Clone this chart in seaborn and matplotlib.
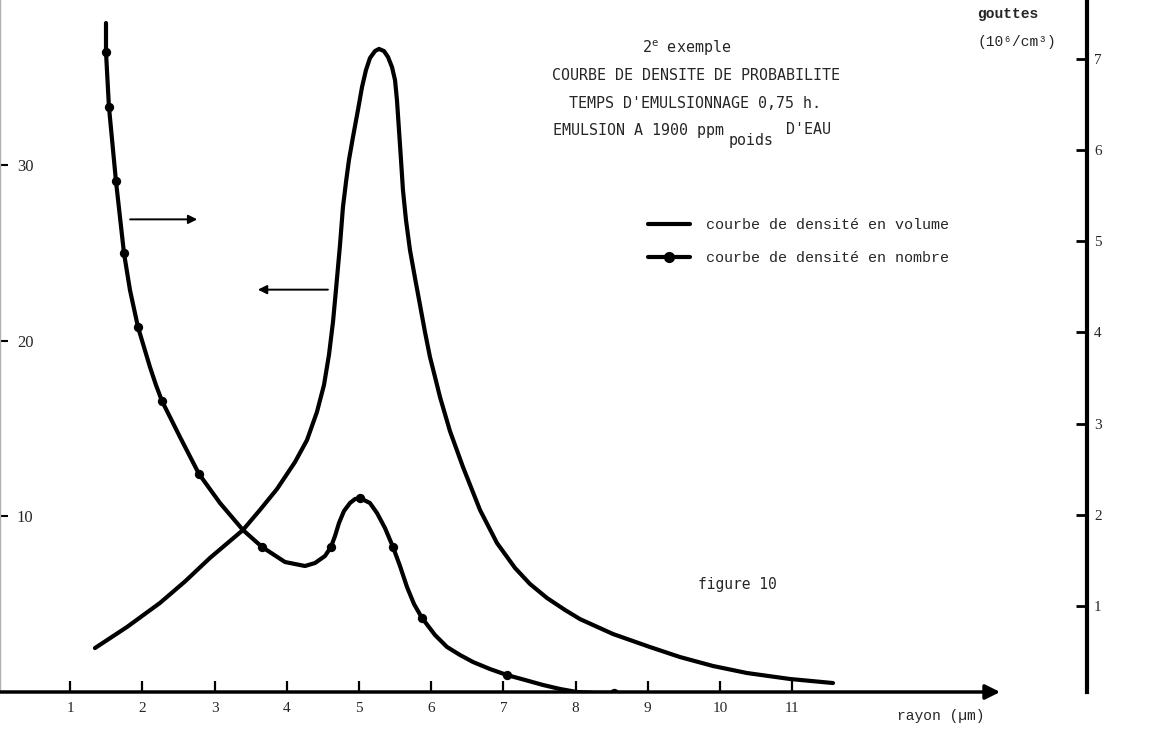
import matplotlib
matplotlib.use("Agg")
import matplotlib.pyplot as plt
from matplotlib.lines import Line2D
from matplotlib.font_manager import FontProperties
import seaborn as sns

# ---------------- data ----------------
# volume density curve (left axis)
vol_r = [1.343, 1.787, 2.244, 2.590, 2.936, 3.393, 3.628, 3.864, 4.114, 4.280, 4.418, 4.515,
         4.584, 4.640, 4.681, 4.737, 4.778, 4.820, 4.861, 4.917, 4.986, 5.042, 5.097, 5.152,
         5.222, 5.277, 5.346, 5.402, 5.457, 5.499, 5.526, 5.554, 5.582, 5.609, 5.651, 5.706,
         5.776, 5.845, 5.914, 5.983, 6.053, 6.122, 6.260, 6.440, 6.676, 6.911, 7.161, 7.368,
         7.604, 7.853, 8.061, 8.518, 9.03, 9.446, 9.903, 10.374, 10.97, 11.565]
vol_d = [2.50, 3.70, 5.07, 6.29, 7.63, 9.22, 10.36, 11.55, 13.09, 14.34, 15.94, 17.47,
         19.18, 21.06, 22.88, 25.44, 27.60, 29.02, 30.28, 31.59, 33.13, 34.43, 35.40, 36.08,
         36.48, 36.60, 36.48, 36.14, 35.57, 34.83, 33.69, 31.99, 30.28, 28.57, 26.86, 25.16,
         23.56, 22.03, 20.49, 19.07, 17.93, 16.79, 14.85, 12.81, 10.36, 8.48, 7.06, 6.15,
         5.35, 4.67, 4.15, 3.30, 2.56, 1.99, 1.48, 1.08, 0.74, 0.51]

# number density curve (right axis, 10^6/cm^3)
num_r = [1.496, 1.496, 1.537, 1.634, 1.745, 1.828, 1.939, 2.105, 2.188, 2.271, 2.521, 2.784,
         3.075, 3.393, 3.657, 3.975, 4.252, 4.391, 4.529, 4.612, 4.668, 4.723, 4.792, 4.875,
         4.945, 5.014, 5.152, 5.249, 5.360, 5.471, 5.568, 5.665, 5.762, 5.873, 6.053, 6.219,
         6.399, 6.579, 6.814, 7.050, 7.299, 7.548, 7.784, 8.019, 8.269, 8.532]
num_d = [7.394, 7.076, 6.473, 5.661, 4.871, 4.465, 4.059, 3.620, 3.423, 3.248, 2.852, 2.447,
         2.128, 1.832, 1.646, 1.481, 1.437, 1.470, 1.547, 1.646, 1.766, 1.909, 2.040, 2.128,
         2.172, 2.183, 2.128, 2.019, 1.854, 1.646, 1.437, 1.207, 1.020, 0.867, 0.680, 0.549,
         0.461, 0.384, 0.307, 0.241, 0.187, 0.132, 0.088, 0.055, 0.044, 0.044]
# measured points (markers) of the number curve
mark_r = [1.496, 1.537, 1.634, 1.745, 1.939, 2.271, 2.784, 3.657, 4.612, 5.014, 5.471, 5.873,
          7.050, 8.532]
mark_d = [7.076, 6.473, 5.661, 4.871, 4.059, 3.248, 2.447, 1.646, 1.646, 2.183, 1.646, 0.867,
          0.241, 0.044]

x_ticks = [1, 2, 3, 4, 5, 6, 7, 8, 9, 10, 11]
left_ticks = [10, 20, 30]
right_ticks = [1, 2, 3, 4, 5, 6, 7]

title_lines = ["COURBE DE DENSITE DE PROBABILITE", "TEMPS D'EMULSIONNAGE 0,75 h."]
legend_labels = ["courbe de densité en volume", "courbe de densité en nombre"]

# ---------------- figure ----------------
sns.set_theme(style="white")
plt.rcParams["mathtext.fontset"] = "custom"
plt.rcParams["mathtext.rm"] = "DejaVu Sans Mono"

W, H = 1149, 737
fig = plt.figure(figsize=(W / 100, H / 100), dpi=100)
fig.patch.set_facecolor("white")

def fx(px):
    return px / W

def fy(py):
    return 1 - py / H

ax = fig.add_axes([0, fy(692), fx(1087), 692 / H])
ax2 = ax.twinx()

ax.set_xlim(0.028, 1089 / 72.2)
ax.set_ylim(0, 692 / 17.57)
ax2.set_ylim((697 - 692) / 91.15, 697 / 91.15)

line_kw = dict(color="black", lw=3.0, sort=False, estimator=None, errorbar=None)
sns.lineplot(x=vol_r, y=vol_d, ax=ax, **line_kw)
sns.lineplot(x=num_r, y=num_d, ax=ax2, **line_kw)
sns.scatterplot(x=mark_r, y=mark_d, ax=ax2, color="black", s=45, edgecolor="black",
                linewidth=0, zorder=5)
for a in (ax, ax2):
    for ln in a.lines:
        ln.set_solid_joinstyle("round")
        ln.set_solid_capstyle("round")

serif = "Liberation Serif"
mono = "Liberation Mono"
gothic = "DejaVu Sans Mono"

# spines
for s in ["top", "right", "bottom"]:
    ax.spines[s].set_visible(False)
ax.spines["left"].set_color("#b0b0b0")
ax.spines["left"].set_linewidth(1.0)
for s in ["top", "left", "bottom"]:
    ax2.spines[s].set_visible(False)
ax2.spines["right"].set_color("black")
ax2.spines["right"].set_linewidth(3.0)

# x axis with arrow
ax.annotate("", xy=(13.88, 0), xytext=(0.028, 0), xycoords="data",
            arrowprops=dict(arrowstyle="-|>", lw=2.5, color="black", mutation_scale=22,
                            shrinkA=0, shrinkB=0),
            annotation_clip=False)

ax.set_xticks(x_ticks)
ax.set_xticklabels([str(t) for t in x_ticks], fontfamily=serif, fontsize=11)
ax.tick_params(axis="x", direction="in", length=8, width=1.6, color="black", pad=7,
               bottom=True)

ax.set_yticks(left_ticks)
ax.set_yticklabels([str(t) for t in left_ticks], fontfamily=serif, fontsize=12)
ax.tick_params(axis="y", direction="in", length=6, width=1.5, color="black", pad=-24,
               left=True)

ax2.set_yticks(right_ticks)
ax2.set_yticklabels([str(t) for t in right_ticks], fontfamily=serif, fontsize=11)
ax2.tick_params(axis="y", direction="in", length=8, width=2, color="black", pad=5,
                right=True)

ax.set_xlabel("")
ax.set_ylabel("")
ax2.set_ylabel("")
ax.grid(False)
ax2.grid(False)

# direction arrows
ax.annotate("", xy=(2.76, 26.9), xytext=(1.83, 26.9),
            arrowprops=dict(arrowstyle="-|>", lw=1.4, color="black", mutation_scale=13,
                            shrinkA=0, shrinkB=0))
ax.annotate("", xy=(3.60, 22.9), xytext=(4.57, 22.9),
            arrowprops=dict(arrowstyle="-|>", lw=1.4, color="black", mutation_scale=13,
                            shrinkA=0, shrinkB=0))

# title block
tsize = 10.8
fig.text(fx(687), fy(48), "2$^{\\rm e}$ exemple", family=gothic, fontsize=tsize,
         ha="center", va="center")
fig.text(fx(696), fy(76), title_lines[0], family=gothic, fontsize=tsize,
         ha="center", va="center")
fig.text(fx(695), fy(103), title_lines[1], family=gothic, fontsize=tsize,
         ha="center", va="center")
fig.text(fx(553), fy(130), "EMULSION A 1900 ppm", family=gothic, fontsize=tsize,
         ha="left", va="center")
fig.text(fx(729), fy(141), "poids", family=gothic, fontsize=tsize,
         ha="left", va="center")
fig.text(fx(786), fy(130), "D'EAU", family=gothic, fontsize=tsize,
         ha="left", va="center")

fig.text(fx(737), fy(585), "figure 10", family=gothic, fontsize=10.5,
         ha="center", va="center")

fig.text(fx(897), fy(716), "rayon (µm)", family=[mono, "DejaVu Sans Mono"], fontsize=10.5,
         ha="left", va="center")

fig.text(fx(977), fy(14), "gouttes", family=mono, fontsize=10.5, fontweight="bold",
         ha="left", va="center")
fig.text(fx(977), fy(42), "(10⁶/cm³)", family=[mono, "DejaVu Sans Mono"], fontsize=10.5,
         ha="left", va="center")

# legend
handles = [Line2D([0], [0], color="black", lw=3),
           Line2D([0], [0], color="black", lw=3, marker="o", markersize=7)]
leg = ax2.legend(handles=handles, labels=legend_labels, loc="upper left",
                 bbox_to_anchor=(fx(648), fy(218)), bbox_transform=fig.transFigure,
                 frameon=False, prop=FontProperties(family=mono, size=10.8),
                 handlelength=2.8, handletextpad=1.05, labelspacing=1.25,
                 borderpad=0, borderaxespad=0)

fig.savefig("out.png", dpi=100, facecolor="white")
